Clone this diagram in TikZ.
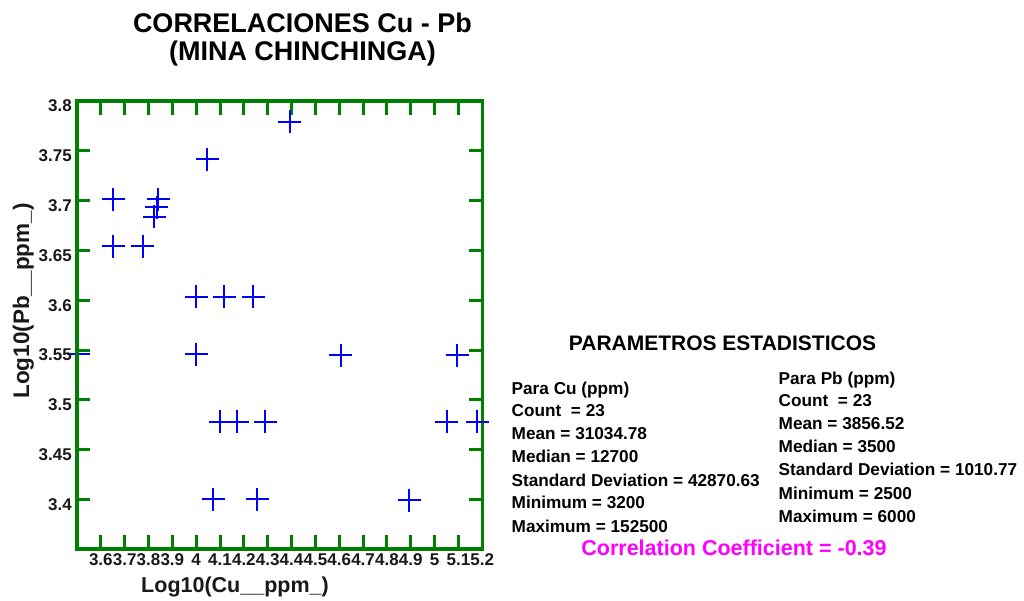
\documentclass[tikz,border=0pt]{standalone}
\usepackage{fontspec}
\setmainfont{Liberation Sans}
\definecolor{axisgreen}{RGB}{0,128,0}
\definecolor{markblue}{RGB}{0,0,255}
\definecolor{corrmag}{RGB}{255,0,255}
\definecolor{txtdark}{RGB}{25,25,25}
\begin{document}
\begin{tikzpicture}[x=1pt,y=-1pt,
  frameline/.style={draw=axisgreen, line width=3.5pt, line join=miter},
  tickline/.style={draw=axisgreen, line width=3pt},
  plusmark/.style={draw=markblue, line width=2pt},
  ticklab/.style={font=\fontsize{17}{17}\selectfont\bfseries, text=txtdark, inner sep=0pt},
  statlab/.style={font=\fontsize{17.2}{17.2}\selectfont\bfseries, text=black, anchor=base west, inner sep=0pt},
  titlelab/.style={font=\fontsize{27}{27}\selectfont\bfseries, text=black, anchor=base, inner sep=0pt},
  axislab/.style={font=\fontsize{21.5}{21.5}\selectfont\bfseries, text=txtdark, anchor=base, inner sep=0pt}]
\fill[white] (0,0) rectangle (1024,600);
\useasboundingbox (0,0) rectangle (1024,600);

% title
\node[titlelab] (title1) at (302.5,32.5) {CORRELACIONES Cu - Pb};
\node[titlelab] (title2) at (302.5,60) {(MINA CHINCHINGA)};

% point hidden behind the left axis
\draw[plusmark] (78-11.5,354.3) -- (78+11.5,354.3) (78,354.3-11.5) -- (78,354.3+11.5);

% frame
\coordinate (fnw) at (77,101);
\coordinate (fse) at (482.3,549.2);
\draw[frameline] (fnw) rectangle (fse);

% x ticks and labels
\foreach \i/\lab in {1/3.6,2/3.7,3/3.8,4/3.9,5/4,6/4.1,7/4.2,8/4.3,9/4.4,10/4.5,11/4.6,12/4.7,13/4.8,14/4.9,15/5,16/5.1}{
  \draw[tickline] (77+\i*23.84,549.2) -- (77+\i*23.84,535);
  \draw[tickline] (77+\i*23.84,101) -- (77+\i*23.84,115);
  \node[ticklab] (xl\i) at (77+\i*23.84,560) {\lab};
}
\node[ticklab] (xl17) at (482.3,560) {5.2};

% y ticks and labels
\foreach \j/\lab in {1/3.75,2/3.7,3/3.65,4/3.6,5/3.55,6/3.5,7/3.45,8/3.4}{
  \draw[tickline] (77,101+\j*49.8) -- (90,101+\j*49.8);
  \draw[tickline] (482.3,101+\j*49.8) -- (469,101+\j*49.8);
  \node[ticklab, anchor=east] (yl\j) at (72,106+\j*49.8) {\lab};
}
\node[ticklab, anchor=east] (yl0) at (72,106) {3.8};

% data points
\foreach \px/\py in {289.5/121.5, 207.3/159, 113.3/199.3, 158.3/199.3, 156.7/207.3, 154/216.7,
  113.3/246, 142.7/246, 196/296.7, 224/296.7, 253.3/296.7, 196/354.3, 340.7/355, 457.3/355,
  220/421.7, 237.3/421.7, 265/421.7, 446.7/421.7, 477.3/421.7, 213.3/499.3, 257.3/499.3, 409.3/500}{
  \draw[plusmark] (\px-11.5,\py) -- (\px+11.5,\py) (\px,\py-11.5) -- (\px,\py+11.5);
}

% axis labels
\node[axislab] (xlab) at (235,592) {Log10(Cu\_\_ppm\_)};
\node[axislab, rotate=90, font=\fontsize{22.5}{22.5}\selectfont\bfseries] (ylab) at (29,301) {Log10(Pb\_\_ppm\_)};

% statistics
\node[font=\fontsize{21}{21}\selectfont\bfseries, anchor=base, inner sep=0pt] (hdr) at (722.5,350) {PARAMETROS ESTADISTICOS};

\node[statlab] (cu1) at (511.5,394) {Para Cu (ppm)};
\node[statlab] (cu2) at (511.5,416.7) {Count\ \ = 23};
\node[statlab] (cu3) at (511.5,439.5) {Mean = 31034.78};
\node[statlab] (cu4) at (511.5,462.3) {Median = 12700};
\node[statlab] (cu5) at (511.5,486) {Standard Deviation = 42870.63};
\node[statlab] (cu6) at (511.5,508.7) {Minimum = 3200};
\node[statlab] (cu7) at (511.5,532) {Maximum = 152500};

\node[statlab] (pb1) at (778.5,384.3) {Para Pb (ppm)};
\node[statlab] (pb2) at (778.5,406.3) {Count\ \ = 23};
\node[statlab] (pb3) at (778.5,429.3) {Mean = 3856.52};
\node[statlab] (pb4) at (778.5,452) {Median = 3500};
\node[statlab] (pb5) at (778.5,475.7) {Standard Deviation = 1010.77};
\node[statlab] (pb6) at (778.5,499.3) {Minimum = 2500};
\node[statlab] (pb7) at (778.5,522.7) {Maximum = 6000};

\node[font=\fontsize{21.5}{21.5}\selectfont\bfseries, text=corrmag, anchor=base, inner sep=0pt] (corr) at (734,555) {Correlation Coefficient = -0.39};
\end{tikzpicture}
\end{document}
